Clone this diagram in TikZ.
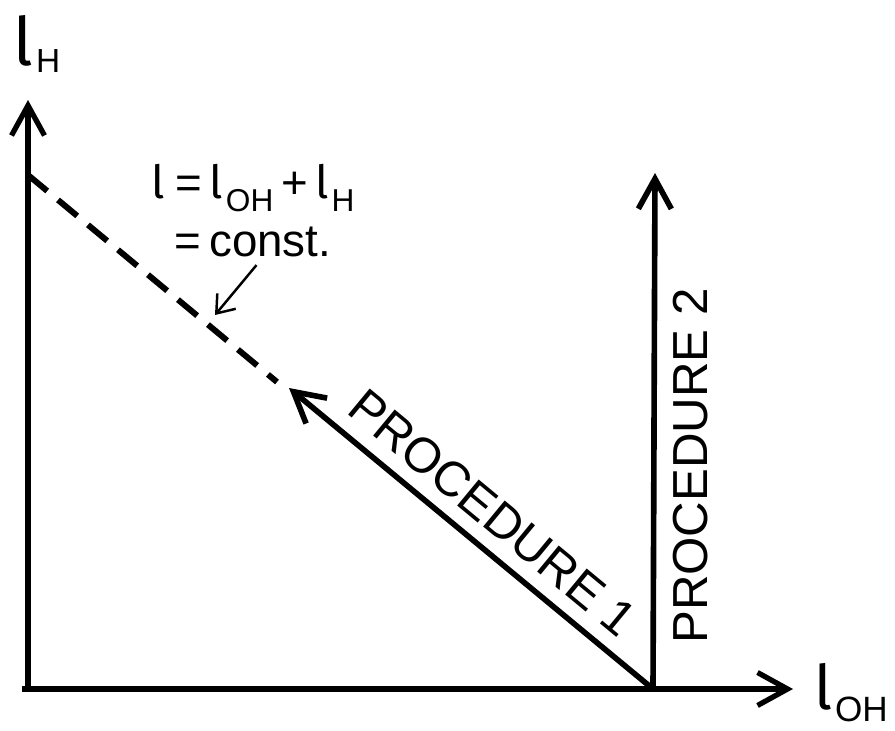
\documentclass[tikz,border=0pt]{standalone}
\usepackage{fontspec}
\setmainfont{Liberation Sans}
\newfontfamily\ellfont{Fira Sans}
\usetikzlibrary{arrows.meta}

% letter l with a lowered subscript: l-size, sub-size, drop, subscript
\newcommand{\lsub}[4]{{\ellfont\fontsize{#1}{#1}\selectfont l}\kern0.8pt\raisebox{-#3}{\fontsize{#2}{#2}\selectfont #4}}

\begin{document}
\begin{tikzpicture}[
  axis/.style={line width=1.5pt, -{Straight Barb[length=3mm,width=3.3mm]}},
  proc/.style={line width=1.6pt, -{Straight Barb[length=3mm,width=3.3mm]}},
  dashline/.style={line width=1.7pt, dash pattern=on 0.25cm off 0.14cm},
  pointer/.style={line width=0.7pt, -{Straight Barb[length=1.6mm,width=2.4mm]}},
  lbl/.style={font=\fontsize{14}{16}\selectfont, inner sep=1pt},
]
\useasboundingbox (0,0) rectangle (8.95,7.30);

% axes
\coordinate (xstart) at (0.22,0.41);
\coordinate (xend) at (7.93,0.41);
\coordinate (ystart) at (0.28,0.38);
\coordinate (yend) at (0.28,6.30);
\draw[axis] (xstart) -- (xend);
\draw[axis] (ystart) -- (yend);

\node (lh) at (0.37,6.86) {\lsub{19}{9.5}{2pt}{H}};
\node (loh) at (8.51,0.37) {\lsub{17.5}{10}{3.4pt}{OH}};

% constant total length
\coordinate (d1) at (0.28,5.55);
\coordinate (d2) at (2.77,3.48);
\draw[dashline] (d1) -- (d2);

\node[align=center, font=\fontsize{13}{16.5}\selectfont, inner sep=1pt] (eq) at (2.53,5.19)
  {\lsub{13}{9}{0pt}{}\,=\,\lsub{13}{9}{3.5pt}{OH}\,+\,\lsub{13}{9}{3.5pt}{H}\\=\,const.};
\coordinate (ptr) at (2.15,4.15);
\draw[pointer] ([xshift=1pt,yshift=-1pt]eq.south) -- (ptr);

% the two procedures
\coordinate (foot) at (6.53,0.41);
\coordinate (tip1) at (2.89,3.42);
\coordinate (tip2) at (6.55,5.57);
\draw[proc] (foot) -- (tip1);
\draw[proc] (foot) -- (tip2);

\node[lbl, rotate=-39.6] (p1) at (4.93,2.17) {PROCEDURE 1};
\node[lbl, rotate=90] (p2) at (6.91,2.64) {PROCEDURE 2};

\end{tikzpicture}
\end{document}
